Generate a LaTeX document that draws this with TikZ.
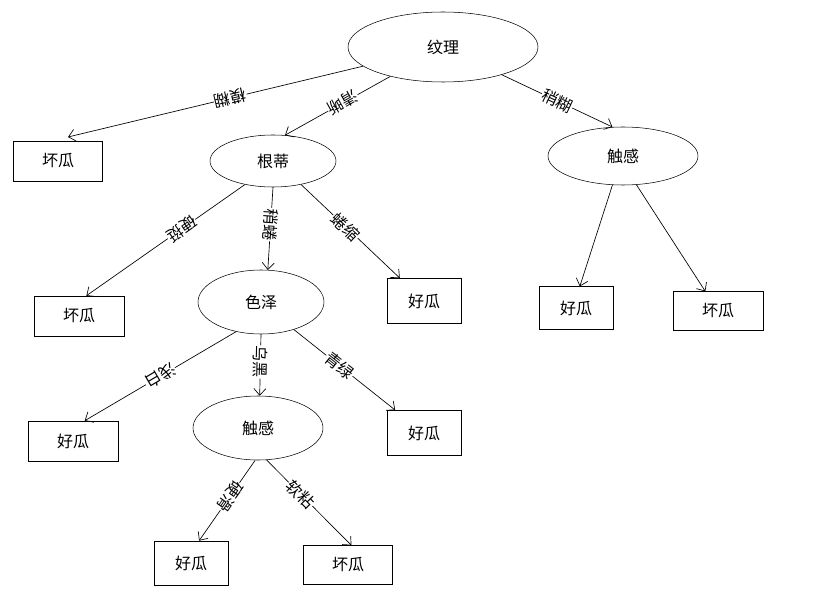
\documentclass[tikz,border=0pt]{standalone}
\usepackage{fontspec}
\setmainfont{Noto Sans CJK SC}
\usetikzlibrary{shapes.geometric,arrows.meta}
\begin{document}
\begin{tikzpicture}[x=0.75pt,y=-0.75pt,
  el/.style={draw,ellipse,inner sep=0pt,font=\fontsize{12}{14}\selectfont},
  bx/.style={draw,rectangle,inner sep=0pt,font=\fontsize{12}{14}\selectfont},
  ar/.style={-{Straight Barb[length=5pt,width=9pt]},line width=0.5pt},
  lb/.style={fill=white,sloped,allow upside down,inner sep=0.5pt,font=\fontsize{12}{13}\selectfont}]
\useasboundingbox (0,0) rectangle (831,602);
\node[el,minimum width=142.5pt,minimum height=52.5pt] (r) at (443,47) {纹理};
\node[bx,minimum width=67pt,minimum height=30pt] (b1) at (58,161) {坏瓜};
\node[el,minimum width=94.5pt,minimum height=39pt] (gd) at (273,161) {根蒂};
\node[el,minimum width=112.5pt,minimum height=43.5pt] (ch1) at (623,156) {触感};
\node[bx,minimum width=67.5pt,minimum height=30pt] (b2) at (79,316) {坏瓜};
\node[el,minimum width=94.5pt,minimum height=48pt] (sz) at (261,302) {色泽};
\node[bx,minimum width=55.5pt,minimum height=34pt] (g1) at (424,301) {好瓜};
\node[bx,minimum width=55.5pt,minimum height=32pt] (g2) at (576,308) {好瓜};
\node[bx,minimum width=67.5pt,minimum height=29pt] (b3) at (718,311) {坏瓜};
\node[bx,minimum width=67.5pt,minimum height=30pt] (g3) at (73,441) {好瓜};
\node[el,minimum width=97.5pt,minimum height=48pt] (ch2) at (258,428) {触感};
\node[bx,minimum width=55.5pt,minimum height=34pt] (g4) at (424,433) {好瓜};
\node[bx,minimum width=55.5pt,minimum height=33pt] (g5) at (191,563) {好瓜};
\node[bx,minimum width=67pt,minimum height=29pt] (b4) at (348,565) {坏瓜};
\coordinate (e1) at (68,137);
\draw[ar] (r) -- (e1) node[lb,pos=0.45] {模糊};
\draw[ar] (r) -- (gd.65) node[lb,pos=0.45] {清晰};
\draw[ar] (r) -- (ch1.110) node[lb,pos=0.5] {稍糊};
\draw[ar] (ch1.250) -- (g2.80);
\draw[ar] (ch1.295) -- (b3);
\draw[ar] (gd.220) -- (b2.70) node[lb,pos=0.4] {硬挺};
\draw[ar] (gd.270) -- (sz.78) node[lb,pos=0.45] {稍蜷};
\draw[ar] (gd.320) -- (g1) node[lb,pos=0.45] {蜷缩};
\draw[ar] (sz.230) -- (g3.60) node[lb,pos=0.5] {浅白};
\draw[ar] (sz.270) -- (ch2.87) node[lb,pos=0.45] {乌黑};
\draw[ar] (sz.320) -- (g4) node[lb,pos=0.45] {青绿};
\draw[ar] (ch2.265) -- (g5.70) node[lb,pos=0.45] {硬滑};
\draw[ar] (ch2.285) -- (b4.80) node[lb,pos=0.4] {软粘};
\end{tikzpicture}
\end{document}
